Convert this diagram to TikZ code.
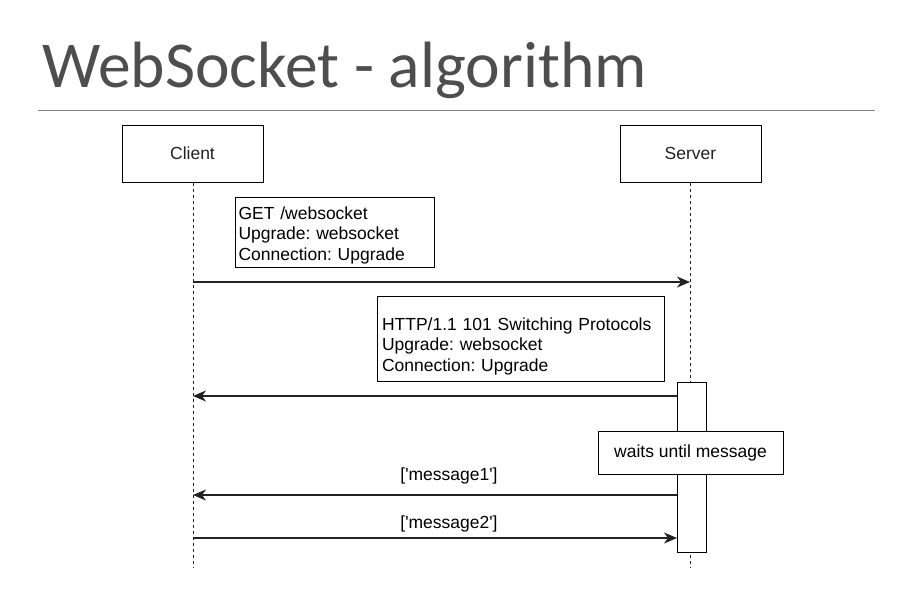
\documentclass[tikz,border=0pt]{standalone}
\usepackage{fontspec}
\setmainfont{Liberation Sans}
\newfontfamily\titlefont{Carlito}
\usetikzlibrary{arrows.meta}
\AtBeginDocument{\frenchspacing}
\definecolor{titlegray}{HTML}{4E4E4E}
\definecolor{linegray}{HTML}{222222}
\begin{document}
\begin{tikzpicture}[x=1pt,y=-1pt,
  actor/.style={draw=black, line width=1pt, fill=white, minimum width=141pt, minimum height=57pt, font=\fontsize{17.5}{21}\selectfont, text=linegray},
  notebox/.style={draw=black, line width=1pt, fill=white, align=left, anchor=north west, inner xsep=3pt, inner ysep=0pt, font=\fontsize{17.5}{20.5}\selectfont, text=black},
  lifeline/.style={draw=linegray, line width=1pt, dash pattern=on 3pt off 3pt},
  msg/.style={draw=linegray, line width=1.1pt, -{Stealth[length=13pt,width=11pt,inset=4pt]}},
  lbl/.style={font=\fontsize{17.5}{21}\selectfont, text=black, anchor=base, inner sep=0pt},
  actbar/.style={draw=black, line width=1pt, fill=white}]
\useasboundingbox (0,0) rectangle (900,600);
% title
\node[anchor=base west, inner sep=0pt, text=titlegray, font=\titlefont\fontsize{65.5}{70}\selectfont] (title) at (42,87) {WebSocket - algorithm};
\coordinate (rl) at (38,110);
\coordinate (rr) at (875,110);
\draw[draw=gray, line width=1pt] (rl) -- (rr);
% actors
\node[actor] (client) at (192.5,153.5) {Client};
\node[actor] (server) at (690.5,153.5) {Server};
\coordinate (cend) at (193,567);
\coordinate (send) at (690,567);
\draw[lifeline] (client.south -| cend) -- (cend);
\draw[lifeline] (server.south -| send) -- (send);
% activation bar
\node[actbar, minimum width=29pt, minimum height=170pt, inner sep=0pt] (act) at (691.5,467) {};
% notes
\node[notebox, minimum width=199pt, minimum height=70pt, text width=193pt] (req) at (235,197) {\rule{0pt}{18.5pt}GET /websocket\\Upgrade: websocket\\Connection: Upgrade};
\node[notebox, minimum width=285pt, minimum height=85pt, text width=278pt, inner xsep=4.5pt] (resp) at (377,296) {\rule{0pt}{27pt}HTTP/1.1 101 Switching Protocols\\Upgrade: websocket\\Connection: Upgrade};
\node[draw=black, line width=1pt, fill=white, minimum width=185pt, minimum height=43pt, font=\fontsize{17.5}{21}\selectfont] (wait) at (690.5,452.5) {waits until message};
% messages
\coordinate (m1s) at (193,282);
\coordinate (m1e) at (690,282);
\draw[msg] (m1s) -- (m1e);
\coordinate (m2s) at (677,396);
\coordinate (m2e) at (193,396);
\draw[msg] (m2s) -- (m2e);
\coordinate (m3s) at (677,495);
\coordinate (m3e) at (193,495);
\draw[msg] (m3s) -- (m3e);
\node[lbl] (l3) at (449,480) {[\textquotesingle message1\textquotesingle]};
\coordinate (m4s) at (193,538);
\coordinate (m4e) at (677,538);
\draw[msg] (m4s) -- (m4e);
\node[lbl] (l4) at (449,528) {[\textquotesingle message2\textquotesingle]};
\end{tikzpicture}
\end{document}
